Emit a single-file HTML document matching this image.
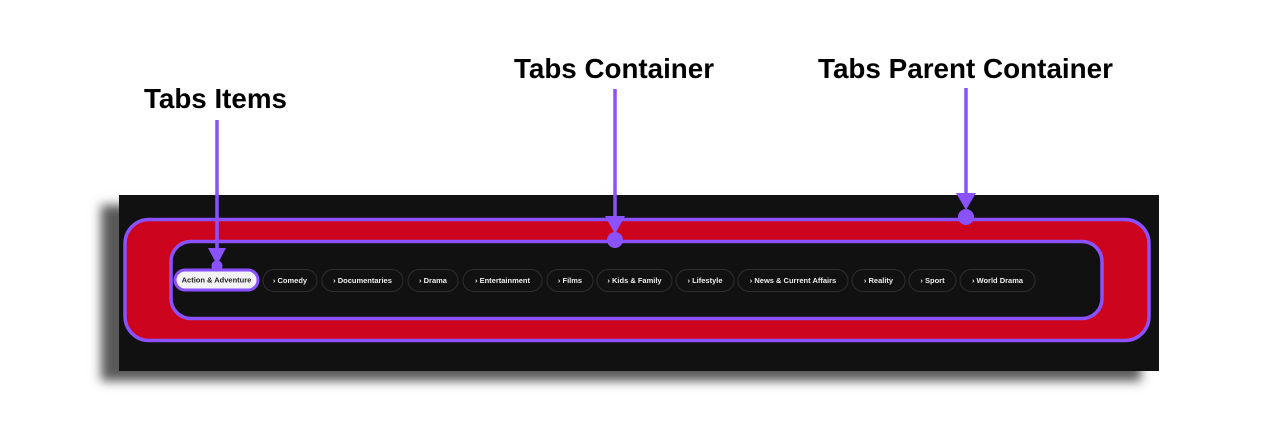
<!DOCTYPE html>
<html><head><meta charset="utf-8"><style>
html,body{margin:0;padding:0;background:#fff;width:1280px;height:428px;overflow:hidden}
.panel{position:absolute;left:119px;top:195px;width:1040px;height:176px;background:#111;box-shadow:-18px 10px 10px rgba(0,0,0,0.65)}
svg{position:absolute;left:0;top:0}
</style></head><body>
<div class="panel"></div>
<svg width="1280" height="428" viewBox="0 0 1280 428" font-family="Liberation Sans, sans-serif">
  <g font-weight="bold" font-size="28" fill="#000">
    <text x="144" y="108" textLength="143" lengthAdjust="spacingAndGlyphs">Tabs Items</text>
    <text x="514" y="78" textLength="200" lengthAdjust="spacingAndGlyphs">Tabs Container</text>
    <text x="818" y="78" textLength="295" lengthAdjust="spacingAndGlyphs">Tabs Parent Container</text>
  </g>
  <rect x="125" y="219.5" width="1024" height="121" rx="24" fill="#cd041e" stroke="#8a52ff" stroke-width="3.5"/>
  <rect x="171" y="241.5" width="931" height="77" rx="20" fill="#111" stroke="#8a52ff" stroke-width="3.5"/>
  <g font-size="7.5" font-weight="bold" fill="#eee" text-anchor="middle">
    <rect x="263" y="269.5" width="54" height="22" rx="11" fill="#111" stroke="#2e2e2e"/>
    <text x="290" y="283">› Comedy</text>
    <rect x="322" y="269.5" width="81" height="22" rx="11" fill="#111" stroke="#2e2e2e"/>
    <text x="362.5" y="283">› Documentaries</text>
    <rect x="408" y="269.5" width="50" height="22" rx="11" fill="#111" stroke="#2e2e2e"/>
    <text x="433" y="283">› Drama</text>
    <rect x="463" y="269.5" width="79" height="22" rx="11" fill="#111" stroke="#2e2e2e"/>
    <text x="502.5" y="283">› Entertainment</text>
    <rect x="547" y="269.5" width="46" height="22" rx="11" fill="#111" stroke="#2e2e2e"/>
    <text x="570" y="283">› Films</text>
    <rect x="597" y="269.5" width="75" height="22" rx="11" fill="#111" stroke="#2e2e2e"/>
    <text x="634.5" y="283">› Kids &amp; Family</text>
    <rect x="676" y="269.5" width="58" height="22" rx="11" fill="#111" stroke="#2e2e2e"/>
    <text x="705" y="283">› Lifestyle</text>
    <rect x="738" y="269.5" width="110" height="22" rx="11" fill="#111" stroke="#2e2e2e"/>
    <text x="793" y="283">› News &amp; Current Affairs</text>
    <rect x="852" y="269.5" width="53" height="22" rx="11" fill="#111" stroke="#2e2e2e"/>
    <text x="878.5" y="283">› Reality</text>
    <rect x="909" y="269.5" width="47" height="22" rx="11" fill="#111" stroke="#2e2e2e"/>
    <text x="932.5" y="283">› Sport</text>
    <rect x="960" y="269.5" width="75" height="22" rx="11" fill="#111" stroke="#2e2e2e"/>
    <text x="997.5" y="283">› World Drama</text>
    <rect x="175" y="270" width="83" height="20" rx="10" fill="#f2f2f2" stroke="#8a52ff" stroke-width="3"/>
    <text x="216.5" y="282.5" fill="#222">Action &amp; Adventure</text>
  </g>
  <g stroke="#8a52ff" stroke-width="3.5" fill="#8a52ff">
    <line x1="217" y1="120" x2="217" y2="252"/>
    <polygon points="208,248 226,248 217,265" stroke="none"/>
    <circle cx="217" cy="266" r="5.5" stroke="none"/>
    <line x1="615" y1="89" x2="615" y2="220"/>
    <polygon points="605,216 625,216 615,234" stroke="none"/>
    <circle cx="615" cy="240" r="8" stroke="none"/>
    <line x1="966" y1="88" x2="966" y2="197"/>
    <polygon points="956,193 976,193 966,210" stroke="none"/>
    <circle cx="966" cy="217" r="8" stroke="none"/>
  </g>
</svg>
</body></html>
